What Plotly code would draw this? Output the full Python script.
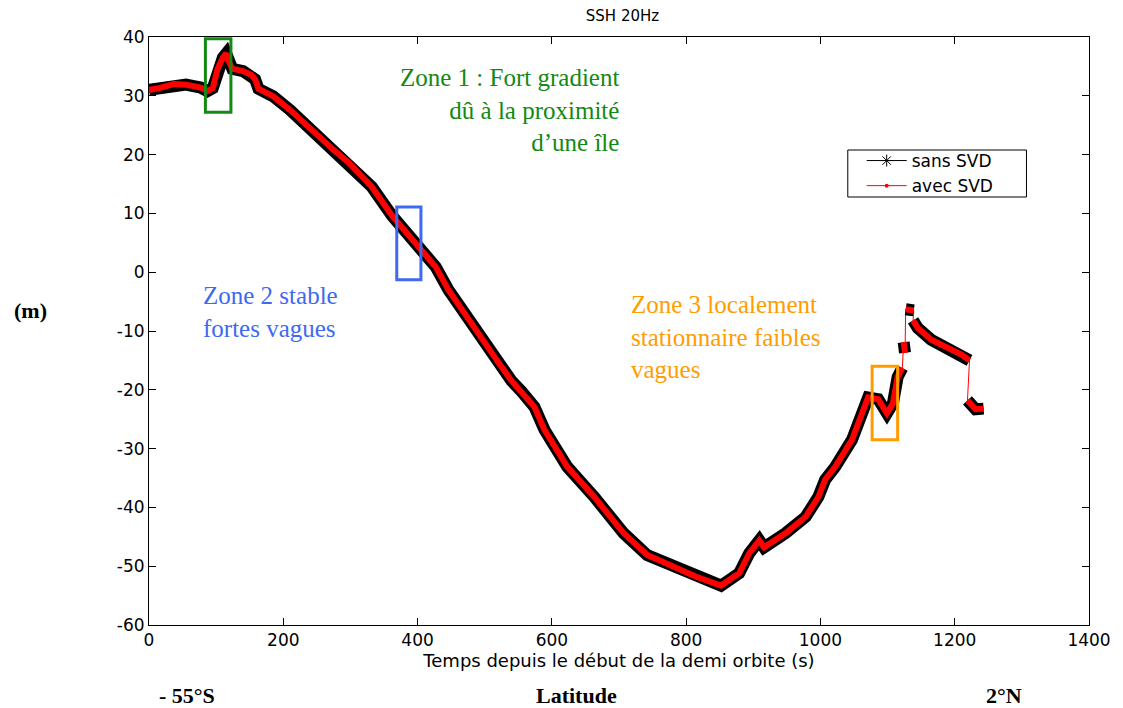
import plotly.graph_objects as go

# Along-track sea surface height (20 Hz), sampled along the half orbit
time_s = [0, 15, 37, 55, 77, 87, 95, 102, 110, 115, 118, 124, 140, 152, 158, 163,
          170, 185, 210, 235, 249, 273, 298, 332, 362, 372, 402, 427, 446, 476,
          500, 520, 540, 555, 574, 589, 623, 663, 707, 742, 771, 815, 852, 879,
          894, 909, 916, 948, 978, 997, 1007, 1022, 1047, 1071, 1086, 1099, 1108,
          1115, 1122,
          1124, 1126,
          1127, 1139,
          1138, 1145, 1165, 1189, 1210, 1222,
          1219, 1231, 1243]
ssh_m = [31.0, 31.3, 32.0, 31.9, 31.4, 30.8, 31.3, 34.5, 36.5, 37.2, 36.0, 34.6,
         34.2, 33.6, 32.8, 31.2, 30.8, 29.9, 27.6, 25.0, 23.2, 21.0, 18.6, 14.5,
         9.6, 8.3, 4.3, 0.9, -3.0, -8.1, -12.1, -15.3, -18.5, -20.3, -22.9, -26.8,
         -33.1, -38.2, -44.4, -48.1, -49.5, -51.8, -53.3, -51.2, -47.8, -45.6,
         -46.8, -44.4, -41.6, -38.2, -35.3, -33.1, -28.5, -21.3, -21.6, -24.0,
         -22.3, -17.8, -16.3,
         -11.9, -13.7,
         -6.3, -6.5,
         -8.2, -9.5, -11.5, -12.9, -14.0, -15.0,
         -21.8, -23.3, -23.2]
# sample indices where the track jumps to a new piece
track_breaks = [59, 61, 63, 69]

x_ticks = [0, 200, 400, 600, 800, 1000, 1200, 1400]
y_ticks = [-60, -50, -40, -30, -20, -10, 0, 10, 20, 30, 40]

# zones highlighted on the profile: (t0, t1, h0, h1)
zone1_box = (84, 122, 27.2, 39.7)
zone2_box = (369, 405, -1.3, 11.1)
zone3_box = (1077, 1115, -28.5, -16.0)


def split_track(xs, ys, breaks):
    gx, gy = [], []
    for i, (a, b) in enumerate(zip(xs, ys)):
        if i in breaks:
            gx.append(None)
            gy.append(None)
        gx.append(a)
        gy.append(b)
    return gx, gy


gx, gy = split_track(time_s, ssh_m, track_breaks)

fig = go.Figure()

# thin red line joining all samples (visible across the jumps)
fig.add_trace(go.Scatter(x=time_s, y=ssh_m, mode="lines",
                         line=dict(color="red", width=1), showlegend=False,
                         hoverinfo="skip"))
# "sans SVD" cloud
fig.add_trace(go.Scatter(x=gx, y=gy, mode="lines", connectgaps=False,
                         line=dict(color="black", width=12),
                         showlegend=False))
# "avec SVD" track
fig.add_trace(go.Scatter(x=gx, y=gy, mode="lines", connectgaps=False,
                         line=dict(color="red", width=6),
                         showlegend=False))

# legend entries
fig.add_trace(go.Scatter(x=[None], y=[None], mode="lines+markers", name="sans SVD",
                         line=dict(color="black", width=1),
                         marker=dict(symbol="asterisk-open", size=10,
                                     color="black", line=dict(width=1, color="black"))))
fig.add_trace(go.Scatter(x=[None], y=[None], mode="lines+markers", name="avec SVD",
                         line=dict(color="red", width=1),
                         marker=dict(symbol="circle", size=4, color="red")))

box_specs = [(zone1_box, "#138a13"), (zone2_box, "#3d6af0"), (zone3_box, "#ff9c00")]
for (t0, t1, h0, h1), col in box_specs:
    fig.add_shape(type="rect", x0=t0, x1=t1, y0=h0, y1=h1, xref="x", yref="y",
                  line=dict(color=col, width=3), fillcolor="rgba(0,0,0,0)")

serif = "Liberation Serif"
fig.add_annotation(x=703, y=35.8, xref="x", yref="y", xanchor="right", yanchor="top",
                   text="Zone 1 : Fort gradient<br>dû à la proximité<br>d’une île",
                   align="right", showarrow=False,
                   font=dict(family=serif, size=25, color="#138a13"))
fig.add_annotation(x=78, y=-1.4, xref="x", yref="y", xanchor="left", yanchor="top",
                   text="Zone 2 stable<br>fortes vagues", align="left", showarrow=False,
                   font=dict(family=serif, size=25, color="#3d6af0"))
fig.add_annotation(x=715, y=-2.8, xref="x", yref="y", xanchor="left", yanchor="top",
                   text="Zone 3 localement<br>stationnaire faibles<br>vagues",
                   align="left", showarrow=False,
                   font=dict(family=serif, size=25, color="#ff9c00"))

L, R, T, B = 149, 1096, 37, 625
W, H = 1123, 708


def px(xp, yp):
    return (xp - L) / (R - L), (B - yp) / (B - T)


for label, xp, yp in [("(m)", 30, 310), ("- 55°S", 187, 695),
                      ("Latitude", 580, 695), ("2°N", 1010, 695)]:
    ax, ay = px(xp, yp)
    fig.add_annotation(x=ax, y=ay, xref="paper", yref="paper", text=f"<b>{label}</b>",
                       showarrow=False, xanchor="center", yanchor="middle",
                       font=dict(family=serif, size=22, color="black"))

# legend frame
lx0, ly1 = px(853, 150)
lx1, ly0 = px(1033, 197)
fig.add_shape(type="rect", xref="paper", yref="paper", x0=lx0, x1=lx1, y0=ly0, y1=ly1,
              line=dict(color="black", width=1), fillcolor="white", layer="above")

sans = "DejaVu Sans"
axis_common = dict(showline=True, linecolor="black", linewidth=1, mirror="ticks",
                   ticks="inside", ticklen=7, tickcolor="black", showgrid=False,
                   zeroline=False, tickfont=dict(family=sans, size=17, color="black"))

leg_x, leg_y = px(867, 143)
fig.update_layout(
    width=W, height=H,
    margin=dict(l=L, r=W - R, t=T, b=H - B),
    paper_bgcolor="white", plot_bgcolor="white",
    title=dict(text="SSH 20Hz", x=(L + R) / 2 / W, xanchor="center",
               y=1 - 16 / H, yanchor="middle",
               font=dict(family=sans, size=15, color="black")),
    xaxis=dict(range=[0, 1400], tickvals=x_ticks, ticktext=[str(v) for v in x_ticks],
               title=dict(text="Temps depuis le début de la demi orbite (s)",
                          font=dict(family=sans, size=18, color="black"), standoff=4),
               **axis_common),
    yaxis=dict(range=[-60, 40], tickvals=y_ticks, ticktext=[str(v) for v in y_ticks],
               **axis_common),
    legend=dict(x=leg_x, y=leg_y, xanchor="left", yanchor="top",
                borderwidth=0, bgcolor="rgba(0,0,0,0)",
                font=dict(family=sans, size=17, color="black"), itemwidth=40,
                tracegroupgap=0),
    showlegend=True,
)

fig.write_html("out.html")
